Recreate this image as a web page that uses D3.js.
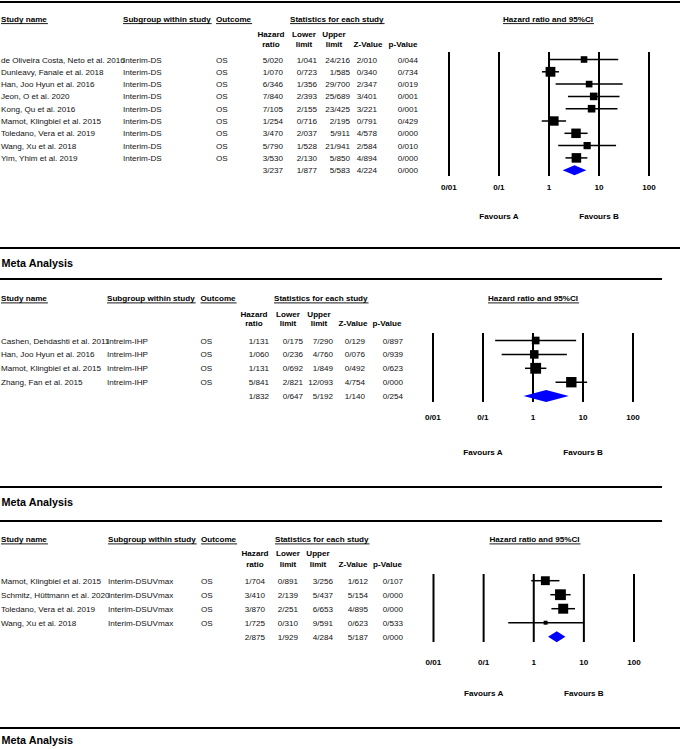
<!DOCTYPE html>
<html><head><meta charset="utf-8">
<script src="https://cdn.jsdelivr.net/npm/d3@7"></script>
<style>
html,body{margin:0;padding:0;background:#fff;}
svg{display:block;font-family:"Liberation Sans",Arial,sans-serif;}
</style></head>
<body>
<svg id="chart" width="680" height="749"></svg>
<script>
// ---------- DATA ----------
const tickValues = [0.01, 0.1, 1, 10, 100];
const tickLabels = ["0/01", "0/1", "1", "10", "100"];
const favourValues = [0.1, 10];
const favourLabels = ["Favours A", "Favours B"];
const sectionTitle = "Meta Analysis";
const colHeaders = [["Hazard", "ratio"], ["Lower", "limit"], ["Upper", "limit"], ["", "Z-Value"], ["", "p-Value"]];

// Panel 1: Interim-DS
const studies1 = ["de Oliveira Costa, Neto et al. 2016", "Dunleavy, Fanale et al. 2018", "Han, Joo Hyun et al. 2016",
  "Jeon, O et al. 2020", "Kong, Qu et al. 2016", "Mamot, Klingbiel et al. 2015", "Toledano, Vera et al. 2019",
  "Wang, Xu et al. 2018", "Yim, Yhim et al. 2019"];
const subgroup1 = "Interim-DS";
const hr1 = [5.020, 1.070, 6.346, 7.840, 7.105, 1.254, 3.470, 5.790, 3.530];
const lower1 = [1.041, 0.723, 1.356, 2.393, 2.155, 0.716, 2.037, 1.528, 2.130];
const upper1 = [24.216, 1.585, 29.700, 25.689, 23.425, 2.195, 5.911, 21.941, 5.850];
const z1 = [2.010, 0.340, 2.347, 3.401, 3.221, 0.791, 4.578, 2.584, 4.894];
const p1 = [0.044, 0.734, 0.019, 0.001, 0.001, 0.429, 0.000, 0.010, 0.000];
const weight1 = [7.0, 15.5, 7.1, 9.3, 9.3, 14.2, 14.5, 8.4, 14.7];
const summary1 = [3.237, 1.877, 5.583, 4.224, 0.000];

// Panel 2: Intreim-IHP
const studies2 = ["Cashen, Dehdashti et al. 2011", "Han, Joo Hyun et al. 2016", "Mamot, Klingbiel et al. 2015", "Zhang, Fan et al. 2015"];
const subgroup2 = "Intreim-IHP";
const hr2 = [1.131, 1.060, 1.131, 5.841];
const lower2 = [0.175, 0.236, 0.692, 2.821];
const upper2 = [7.290, 4.760, 1.849, 12.093];
const z2 = [0.129, 0.076, 0.492, 4.754];
const p2 = [0.897, 0.939, 0.623, 0.000];
const weight2 = [16.6, 20.4, 32.8, 30.2];
const summary2 = [1.832, 0.647, 5.192, 1.140, 0.254];

// Panel 3: Interim-DSUVmax
const studies3 = ["Mamot, Klingbiel et al. 2015", "Schmitz, Hüttmann et al. 2020", "Toledano, Vera et al. 2019", "Wang, Xu et al. 2018"];
const subgroup3 = "Interim-DSUVmax";
const hr3 = [1.704, 3.410, 3.870, 1.725];
const lower3 = [0.891, 2.139, 2.251, 0.310];
const upper3 = [3.256, 5.437, 6.653, 9.591];
const z3 = [1.612, 5.154, 4.895, 0.623];
const p3 = [0.107, 0.000, 0.000, 0.533];
const weight3 = [25.7, 38.2, 32.4, 5.1];
const summary3 = [2.875, 1.929, 4.284, 5.187, 0.000];

const outcome = "OS";

// ---------- LAYOUT ----------
const panels = [
  { studies: studies1, subgroup: subgroup1, hr: hr1, lo: lower1, up: upper1, z: z1, p: p1, w: weight1, sum: summary1,
    headY: 22, hY: [37.3, 46.7], row0: 59.5, step: 12.3, subX: 123, outX: 216,
    colR: [283, 317, 350, 377, 418], colC: [271, 304, 334, 368, 403], statX: 290, ciC: 548,
    ax: [449, 649], vY: [52, 176], tickY: 190, favY: 219, maxBox: 9.8, dH: 10 },
  { studies: studies2, subgroup: subgroup2, hr: hr2, lo: lower2, up: upper2, z: z2, p: p2, w: weight2, sum: summary2,
    headY: 301.3, hY: [317.3, 326.3], row0: 340.5, step: 13.9, subX: 107, outX: 200.5,
    colR: [269, 303, 333, 365, 403], colC: [254, 288, 319, 353, 387], statX: 274, ciC: 533,
    ax: [433, 633], vY: [333, 402], tickY: 419.7, favY: 455.3, maxBox: 10.8, dH: 12 },
  { studies: studies3, subgroup: subgroup3, hr: hr3, lo: lower3, up: upper3, z: z3, p: p3, w: weight3, sum: summary3,
    headY: 542.3, hY: [556, 566.5], row0: 580.7, step: 14, subX: 108, outX: 201,
    colR: [265, 298, 333, 368, 403], colC: [255, 288, 318, 353, 387.5], statX: 275, ciC: 534.5,
    ax: [433.5, 634], vY: [574, 642], tickY: 664.7, favY: 695.5, maxBox: 10.8, dH: 11 }
];
const rules = [[2, 680], [248, 680], [279, 662], [487, 662], [521, 662], [728, 680]];
const titles = [266.5, 506, 744];

const fmt = v => d3.format(".3f")(v).replace(".", "/");
const svg = d3.select("#chart");
const FS = 8.1;

svg.selectAll("line.rule").data(rules).join("line").attr("class", "rule")
  .attr("x1", 0).attr("x2", d => d[1]).attr("y1", d => d[0]).attr("y2", d => d[0])
  .attr("stroke", "#000").attr("stroke-width", 2);

svg.selectAll("text.title").data(titles).join("text").attr("class", "title")
  .attr("x", 1.5).attr("y", d => d).attr("font-size", 10.8).attr("font-weight", "bold").attr("fill", "#000")
  .text(sectionTitle);

function underlined(g, x, y, txt, anchor) {
  const t = g.append("text").attr("x", x).attr("y", y).attr("font-size", FS).attr("font-weight", "bold")
    .attr("text-anchor", anchor || "start").attr("fill", "#000").text(txt);
  const len = t.node().getComputedTextLength();
  const x0 = anchor === "middle" ? x - len / 2 : x;
  g.append("line").attr("x1", x0).attr("x2", x0 + len + 1).attr("y1", y + 1.6).attr("y2", y + 1.6)
    .attr("stroke", "#000").attr("stroke-width", 0.9);
}

panels.forEach(P => {
  const g = svg.append("g");
  const n = P.studies.length;
  const x = d3.scaleLog().domain([0.01, 100]).range(P.ax);
  const y = d3.scaleLinear().domain([0, 1]).range([P.row0, P.row0 + P.step]);
  const box = d3.scaleSqrt().domain([0, d3.max(P.w)]).range([0, P.maxBox]);

  // headers
  underlined(g, 1, P.headY, "Study name");
  underlined(g, P.subX, P.headY, "Subgroup within study");
  underlined(g, P.outX, P.headY, "Outcome");
  underlined(g, P.statX, P.headY, "Statistics for each study");
  underlined(g, P.ciC, P.headY, "Hazard ratio and 95%CI", "middle");
  colHeaders.forEach((h, i) => {
    h.forEach((line, j) => {
      if (!line) return;
      g.append("text").attr("x", P.colC[i]).attr("y", P.hY[j]).attr("text-anchor", "middle")
        .attr("font-size", FS).attr("font-weight", "bold").attr("fill", "#000").text(line);
    });
  });

  // rows
  const rows = d3.range(n).map(i => ({ i, name: P.studies[i], vals: [P.hr[i], P.lo[i], P.up[i], P.z[i], P.p[i]] }));
  const rg = g.append("g").attr("font-size", FS).attr("fill", "#111");
  rows.forEach(r => {
    const yy = y(r.i) + 3;
    rg.append("text").attr("x", 1).attr("y", yy).text(r.name);
    rg.append("text").attr("x", P.subX).attr("y", yy).text(P.subgroup);
    rg.append("text").attr("x", P.outX).attr("y", yy).text(outcome);
    r.vals.forEach((v, k) => rg.append("text").attr("x", P.colR[k]).attr("y", yy).attr("text-anchor", "end").text(fmt(v)));
  });
  P.sum.forEach((v, k) => rg.append("text").attr("x", P.colR[k]).attr("y", y(n) + 3).attr("text-anchor", "end").text(fmt(v)));

  // forest: vertical reference lines
  g.selectAll("line.v").data(tickValues).join("line").attr("class", "v")
    .attr("x1", d => x(d)).attr("x2", d => x(d)).attr("y1", P.vY[0]).attr("y2", P.vY[1])
    .attr("stroke", "#000").attr("stroke-width", 2);
  g.selectAll("text.tick").data(tickValues).join("text").attr("class", "tick")
    .attr("x", d => x(d)).attr("y", P.tickY).attr("text-anchor", "middle")
    .attr("font-size", FS).attr("font-weight", "bold").attr("fill", "#000")
    .text((d, i) => tickLabels[i]);
  g.selectAll("text.fav").data(favourValues).join("text").attr("class", "fav")
    .attr("x", d => x(d)).attr("y", P.favY).attr("text-anchor", "middle")
    .attr("font-size", FS).attr("font-weight", "bold").attr("fill", "#000")
    .text((d, i) => favourLabels[i]);

  // CI lines
  g.selectAll("line.ci").data(rows).join("line").attr("class", "ci")
    .attr("x1", d => x(d.vals[1])).attr("x2", d => x(d.vals[2]))
    .attr("y1", d => y(d.i)).attr("y2", d => y(d.i))
    .attr("stroke", "#000").attr("stroke-width", 1.5);
  // boxes
  g.selectAll("rect.box").data(rows).join("rect").attr("class", "box")
    .attr("x", d => x(d.vals[0]) - box(P.w[d.i]) / 2)
    .attr("y", d => y(d.i) - box(P.w[d.i]) / 2)
    .attr("width", d => box(P.w[d.i])).attr("height", d => box(P.w[d.i]))
    .attr("fill", "#000");
  // summary diamond
  const yc = y(n), h = P.dH / 2;
  g.append("path")
    .attr("d", `M${x(P.sum[1])},${yc}L${x(P.sum[0])},${yc - h}L${x(P.sum[2])},${yc}L${x(P.sum[0])},${yc + h}Z`)
    .attr("fill", "#0000ff");
});
</script>
</body></html>
